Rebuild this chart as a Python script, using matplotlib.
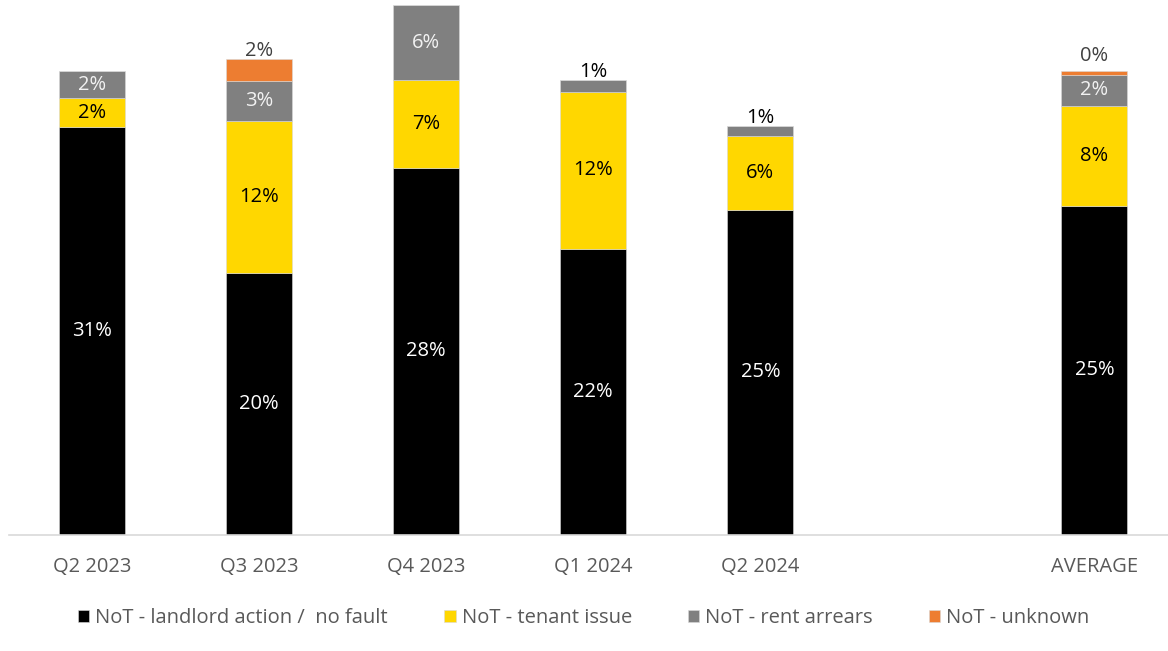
import matplotlib.pyplot as plt
import numpy as np

plt.rcParams['font.family'] = ['Open Sans', 'DejaVu Sans']

categories = ["Q2 2023", "Q3 2023", "Q4 2023", "Q1 2024", "Q2 2024", "", "AVERAGE"]
landlord = [31.1, 20.0, 28.0, 21.8, 24.8, None, 25.1]
tenant = [2.2, 11.6, 6.7, 12.0, 5.6, None, 7.6]
arrears = [2.1, 3.0, 5.7, 0.9, 0.8, None, 2.4]
unknown = [0.0, 1.7, 0.0, 0.0, 0.0, None, 0.3]

series_names = ["NoT - landlord action /  no fault", "NoT - tenant issue",
                "NoT - rent arrears", "NoT - unknown"]
colours = ["#000000", "#FFD700", "#808080", "#ED7D31"]
series = [landlord, tenant, arrears, unknown]

fig = plt.figure(figsize=(11.68, 6.51), dpi=100)
ax = fig.add_axes([8.5 / 1168, 116 / 651, 1 - 8.5 / 1168, 535 / 651])

x = np.arange(len(categories))
keep = [i for i, c in enumerate(categories) if c]
bottoms = np.zeros(len(keep))
bar_w = 0.395

handles = []
for s_idx, (vals, name, col) in enumerate(zip(series, series_names, colours)):
    v = np.array([vals[i] for i in keep], dtype=float)
    b = ax.bar(x[keep], v, bar_w, bottom=bottoms, color=col, label=name,
               edgecolor="#d9d9d9", linewidth=0.4)
    handles.append(b)
    for xi, vi, bi in zip(x[keep], v, bottoms):
        if vi <= 0:
            continue
        txt = f"{vi:.0f}%"
        if vi >= 2:
            # label inside the segment
            tcol = {"#FFD700": "black", "#808080": "#f2f2f2"}.get(col, "white")
            ax.text(xi, bi + vi / 2, txt, ha="center", va="center",
                    fontsize=14.5, color=tcol)
        else:
            # small segment: label sits above the bar
            top = bi + vi
            off = 11 if round(vi) == 0 else 6
            tcol = "black" if s_idx == 2 else "#404040"
            ax.annotate(txt, (xi, top), xytext=(0, off), textcoords="offset points",
                        ha="center", va="center", fontsize=14.5, color=tcol)
    bottoms = bottoms + v

ax.set_xlim(-0.5, 6.44)
ax.set_ylim(0, 40.8)
ax.set_xticks(x)
ax.set_xticklabels(categories, fontsize=14.5, color="#595959")
ax.tick_params(axis="x", length=0, pad=16)
ax.set_yticks([])
for side in ["top", "right", "left"]:
    ax.spines[side].set_visible(False)
ax.spines["bottom"].set_color("#d9d9d9")
ax.spines["bottom"].set_linewidth(1.2)

fig.legend(handles=handles, labels=series_names, loc="center",
           bbox_to_anchor=(0.5, 1 - 618 / 651), ncol=4, frameon=False,
           fontsize=14.5, labelcolor="#595959", handlelength=0.55,
           handleheight=0.55, handletextpad=0.3, columnspacing=2.8)

fig.savefig("out.png", dpi=100)
